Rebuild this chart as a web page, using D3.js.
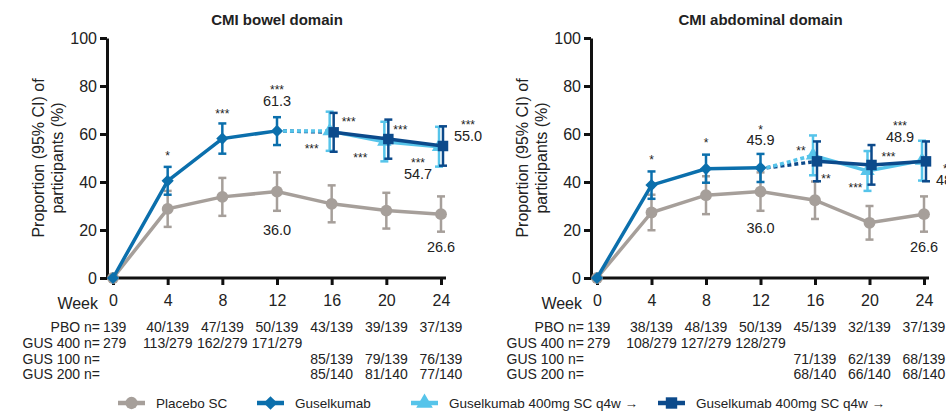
<!DOCTYPE html>
<html>
<head>
<meta charset="utf-8">
<script src="https://cdn.jsdelivr.net/npm/d3@7"></script>
<style>
  body { margin: 0; background: #fff; }
  text { font-family: "Liberation Sans", Arial, sans-serif; fill: #222; }
</style>
</head>
<body>
<div id="chart"></div>
<script>
let width = 946, height = 412

// data
const weeks = [0, 4, 8, 12, 16, 20, 24]
const earlyWeeks = [0, 4, 8, 12]
const lateWeeks = [16, 20, 24]

const bowelPbo = [0, 28.8, 33.8, 36.0, 30.9, 28.1, 26.6]
const bowelPboLo = [0, 21.3, 25.9, 28.0, 23.2, 20.6, 19.3]
const bowelPboHi = [0, 36.3, 41.7, 44.0, 38.6, 35.5, 34.0]
const bowelGus = [0, 40.5, 58.1, 61.3]
const bowelGusLo = [0, 34.7, 51.8, 55.4]
const bowelGusHi = [0, 46.3, 64.4, 67.0]
const bowelG100 = [61.2, 56.8, 54.7]
const bowelG100Lo = [53.0, 48.6, 46.4]
const bowelG100Hi = [69.3, 65.1, 63.0]
const bowelG200 = [60.7, 57.9, 55.0]
const bowelG200Lo = [52.6, 49.7, 46.8]
const bowelG200Hi = [68.8, 66.0, 63.2]

const abdPbo = [0, 27.3, 34.5, 36.0, 32.4, 23.0, 26.6]
const abdPboLo = [0, 19.9, 26.6, 28.0, 24.6, 16.0, 19.3]
const abdPboHi = [0, 34.7, 42.4, 44.0, 40.2, 30.0, 34.0]
const abdGus = [0, 38.7, 45.5, 45.9]
const abdGusLo = [0, 33.0, 39.7, 40.0]
const abdGusHi = [0, 44.4, 51.4, 51.7]
const abdG100 = [51.1, 44.6, 48.9]
const abdG100Lo = [42.8, 36.3, 40.6]
const abdG100Hi = [59.4, 52.9, 57.2]
const abdG200 = [48.6, 47.1, 48.6]
const abdG200Lo = [40.3, 38.9, 40.3]
const abdG200Hi = [56.9, 55.4, 56.9]

const rowLabels = ['PBO n=', 'GUS 400 n=', 'GUS 100 n=', 'GUS 200 n=']
const bowelPboN = ['139', '40/139', '47/139', '50/139', '43/139', '39/139', '37/139']
const bowelGusN = ['279', '113/279', '162/279', '171/279', '', '', '']
const bowelG100N = ['', '', '', '', '85/139', '79/139', '76/139']
const bowelG200N = ['', '', '', '', '85/140', '81/140', '77/140']
const abdPboN = ['139', '38/139', '48/139', '50/139', '45/139', '32/139', '37/139']
const abdGusN = ['279', '108/279', '127/279', '128/279', '', '', '']
const abdG100N = ['', '', '', '', '71/139', '62/139', '68/139']
const abdG200N = ['', '', '', '', '68/140', '66/140', '68/140']

const legendLabels = ['Placebo SC', 'Guselkumab', 'Guselkumab 400mg SC q4w \u2192', 'Guselkumab 400mg SC q4w \u2192']

const col = { pbo: '#a69f9a', gus: '#0b6fac', g100: '#56c4ea', g200: '#0c4a8b' }

let svg = d3.select('#chart').append('svg')
  .attr('width', width)
  .attr('height', height)

let y = d3.scaleLinear().domain([0, 100]).range([278, 38])

let symbolFor = {
  pbo: d3.symbol().type(d3.symbolCircle).size(110),
  gus: d3.symbol().type(d3.symbolDiamond2).size(95),
  g100: d3.symbol().type(d3.symbolTriangle).size(90),
  g200: d3.symbol().type(d3.symbolSquare).size(110)
}

let drawSeries = (g, x, pts, key, dx) => {
  let line = d3.line().x(d => x(d.w) + dx).y(d => y(d.v))
  g.append('path')
    .datum(pts)
    .attr('d', line)
    .attr('fill', 'none')
    .attr('stroke', col[key])
    .attr('stroke-width', 3.5)
  let bars = g.selectAll(null)
    .data(pts.filter(d => d.hi > d.lo))
    .enter()
    .append('g')
    .attr('stroke', col[key])
    .attr('stroke-width', 2.5)
  bars.append('line')
    .attr('x1', d => x(d.w) + dx).attr('x2', d => x(d.w) + dx)
    .attr('y1', d => y(d.lo)).attr('y2', d => y(d.hi))
  bars.append('line')
    .attr('x1', d => x(d.w) + dx - 4).attr('x2', d => x(d.w) + dx + 4)
    .attr('y1', d => y(d.lo)).attr('y2', d => y(d.lo))
  bars.append('line')
    .attr('x1', d => x(d.w) + dx - 4).attr('x2', d => x(d.w) + dx + 4)
    .attr('y1', d => y(d.hi)).attr('y2', d => y(d.hi))
  g.selectAll(null)
    .data(pts)
    .enter()
    .append('path')
    .attr('d', symbolFor[key])
    .attr('transform', d => `translate(${x(d.w) + dx}, ${y(d.v)})`)
    .attr('fill', col[key])
}

let zip = (ws, v, lo, hi) => ws.map((w, i) => ({ w: w, v: v[i], lo: lo[i], hi: hi[i] }))

let drawPanel = (p) => {
  let g = svg.append('g')
  let x = d3.scaleLinear().domain([0, 24]).range(p.range)
  let ax = p.range[0] - 6

  g.append('text')
    .attr('x', x(12)).attr('y', 25)
    .attr('text-anchor', 'middle')
    .style('font-weight', 'bold')
    .style('font-size', '15px')
    .text(p.title)

  // y label
  let yl = g.append('text')
    .attr('transform', `translate(${ax - 63}, 158) rotate(-90)`)
    .attr('text-anchor', 'middle')
    .style('font-size', '16px')
  yl.append('tspan').attr('x', 0).attr('y', 0).text('Proportion (95% CI) of')
  yl.append('tspan').attr('x', 0).attr('y', 19).text('participants (%)')

  let yAxis = g.append('g')
    .attr('transform', `translate(${ax}, 0)`)
    .call(d3.axisLeft(y).tickValues([0, 20, 40, 60, 80, 100]).tickSize(7).tickSizeOuter(0).tickPadding(3))
  yAxis.selectAll('path, line').attr('stroke', '#111').attr('stroke-width', 3)
  yAxis.selectAll('text').style('font-size', '16px').attr('fill', '#222')

  let xAxis = g.append('g')
    .attr('transform', 'translate(0, 278)')
    .call(d3.axisBottom(x).tickValues(weeks).tickSize(7).tickPadding(10))
  xAxis.select('.domain').remove()
  xAxis.selectAll('line').attr('stroke', '#111').attr('stroke-width', 3)
  xAxis.selectAll('text').style('font-size', '16px').attr('fill', '#222')
  g.append('line')
    .attr('x1', ax).attr('x2', x(24) + 5)
    .attr('y1', 278).attr('y2', 278)
    .attr('stroke', '#111').attr('stroke-width', 3)
  g.append('text')
    .attr('x', ax - 9).attr('y', 308.5)
    .attr('text-anchor', 'end')
    .style('font-size', '16px')
    .text('Week')

  // n table
  p.table.forEach((row, r) => {
    let ty = 332 + r * 15.8
    g.append('text')
      .attr('x', ax - 7).attr('y', ty)
      .attr('text-anchor', 'end')
      .style('font-size', '14px')
      .text(rowLabels[r])
    g.selectAll(null)
      .data(row)
      .enter()
      .append('text')
      .attr('x', (d, i) => i === 0 ? ax - 4 : x(weeks[i]))
      .attr('y', ty)
      .attr('text-anchor', (d, i) => i === 0 ? 'start' : 'middle')
      .style('font-size', '14px')
      .text(d => d)
  })

  let pbo = zip(weeks, p.pbo, p.pboLo, p.pboHi)
  let gus = zip(earlyWeeks, p.gus, p.gusLo, p.gusHi)
  let g100 = zip(lateWeeks, p.g100, p.g100Lo, p.g100Hi)
  let g200 = zip(lateWeeks, p.g200, p.g200Lo, p.g200Hi)

  drawSeries(g, x, pbo, 'pbo', 0)

  // dotted bridges from week 12 to week 16
  let last = gus[gus.length - 1]
  ;[['g200', g200[0], 2], ['g100', g100[0], -2]].forEach(([k, d, dx]) => {
    g.append('line')
      .attr('x1', x(last.w) + 6).attr('y1', y(last.v))
      .attr('x2', x(d.w) + dx).attr('y2', y(d.v))
      .attr('stroke', col[k])
      .attr('stroke-width', 3.5)
      .attr('stroke-dasharray', '4 3')
  })

  drawSeries(g, x, gus, 'gus', 0)
  drawSeries(g, x, g100, 'g100', -2)
  drawSeries(g, x, g200, 'g200', 2)

  let series = { pbo: pbo, gus: gus, g100: g100, g200: g200 }
  let shift = { pbo: 0, gus: 0, g100: -2, g200: 2 }
  p.notes.forEach(n => {
    let d = series[n.s][n.i]
    let star = n.t.indexOf('*') >= 0
    g.append('text')
      .attr('x', x(d.w) + shift[n.s] + n.dx)
      .attr('y', y(d.v) + n.dy + (star ? 7 : 0))
      .attr('text-anchor', 'middle')
      .attr('dominant-baseline', star ? null : 'central')
      .style('font-size', star ? '12px' : '14.5px')
      .text(n.t)
  })
}

drawPanel({
  title: 'CMI bowel domain',
  range: [113, 441],
  pbo: bowelPbo, pboLo: bowelPboLo, pboHi: bowelPboHi,
  gus: bowelGus, gusLo: bowelGusLo, gusHi: bowelGusHi,
  g100: bowelG100, g100Lo: bowelG100Lo, g100Hi: bowelG100Hi,
  g200: bowelG200, g200Lo: bowelG200Lo, g200Hi: bowelG200Hi,
  table: [bowelPboN, bowelGusN, bowelG100N, bowelG200N],
  notes: [
    { s: 'gus', i: 1, dx: 0, dy: -28, t: '*' },
    { s: 'gus', i: 2, dx: 0, dy: -28, t: '***' },
    { s: 'gus', i: 3, dx: 0, dy: -44, t: '***' },
    { s: 'gus', i: 3, dx: 0, dy: -30, t: '61.3' },
    { s: 'g100', i: 0, dx: -18, dy: 15, t: '***' },
    { s: 'g200', i: 0, dx: 15, dy: -13, t: '***' },
    { s: 'g100', i: 1, dx: -24, dy: 13, t: '***' },
    { s: 'g200', i: 1, dx: 12, dy: -12, t: '***' },
    { s: 'g100', i: 2, dx: -21, dy: 13, t: '***' },
    { s: 'g100', i: 2, dx: -21, dy: 27, t: '54.7' },
    { s: 'g200', i: 2, dx: 25, dy: -24, t: '***' },
    { s: 'g200', i: 2, dx: 25, dy: -10, t: '55.0' },
    { s: 'pbo', i: 3, dx: 0, dy: 38, t: '36.0' },
    { s: 'pbo', i: 6, dx: 0, dy: 33, t: '26.6' }
  ]
})

drawPanel({
  title: 'CMI abdominal domain',
  range: [597, 924],
  pbo: abdPbo, pboLo: abdPboLo, pboHi: abdPboHi,
  gus: abdGus, gusLo: abdGusLo, gusHi: abdGusHi,
  g100: abdG100, g100Lo: abdG100Lo, g100Hi: abdG100Hi,
  g200: abdG200, g200Lo: abdG200Lo, g200Hi: abdG200Hi,
  table: [abdPboN, abdGusN, abdG100N, abdG200N],
  notes: [
    { s: 'gus', i: 1, dx: 0, dy: -28, t: '*' },
    { s: 'gus', i: 2, dx: 0, dy: -29, t: '*' },
    { s: 'gus', i: 3, dx: 0, dy: -41, t: '*' },
    { s: 'gus', i: 3, dx: 0, dy: -28, t: '45.9' },
    { s: 'g100', i: 0, dx: -12, dy: -7, t: '**' },
    { s: 'g200', i: 0, dx: 9, dy: 15, t: '**' },
    { s: 'g100', i: 1, dx: -12, dy: 14, t: '***' },
    { s: 'g200', i: 1, dx: 17, dy: -11, t: '***' },
    { s: 'g100', i: 2, dx: -22, dy: -38, t: '***' },
    { s: 'g100', i: 2, dx: -22, dy: -24, t: '48.9' },
    { s: 'g200', i: 2, dx: 24, dy: 5, t: '***' },
    { s: 'g200', i: 2, dx: 24, dy: 19, t: '48.6' },
    { s: 'pbo', i: 3, dx: 0, dy: 36, t: '36.0' },
    { s: 'pbo', i: 6, dx: 0, dy: 33, t: '26.6' }
  ]
})

// legend
let legendX = [118, 257, 411, 658]
let legendKeys = ['pbo', 'gus', 'g100', 'g200']
let legend = svg.append('g').attr('transform', 'translate(0, 403)')
legendKeys.forEach((k, i) => {
  let lg = legend.append('g').attr('transform', `translate(${legendX[i]}, 0)`)
  lg.append('line')
    .attr('x1', 0).attr('x2', 27)
    .attr('stroke', col[k]).attr('stroke-width', 4.5)
  lg.append('path')
    .attr('d', d3.symbol().type(symbolFor[k].type()).size(k === 'g200' ? 130 : 120))
    .attr('transform', 'translate(13.5, 0)')
    .attr('fill', col[k])
  lg.append('text')
    .attr('x', 38).attr('y', 0)
    .attr('dominant-baseline', 'central')
    .style('font-size', '13.5px')
    .text(legendLabels[i])
})
</script>
</body>
</html>
